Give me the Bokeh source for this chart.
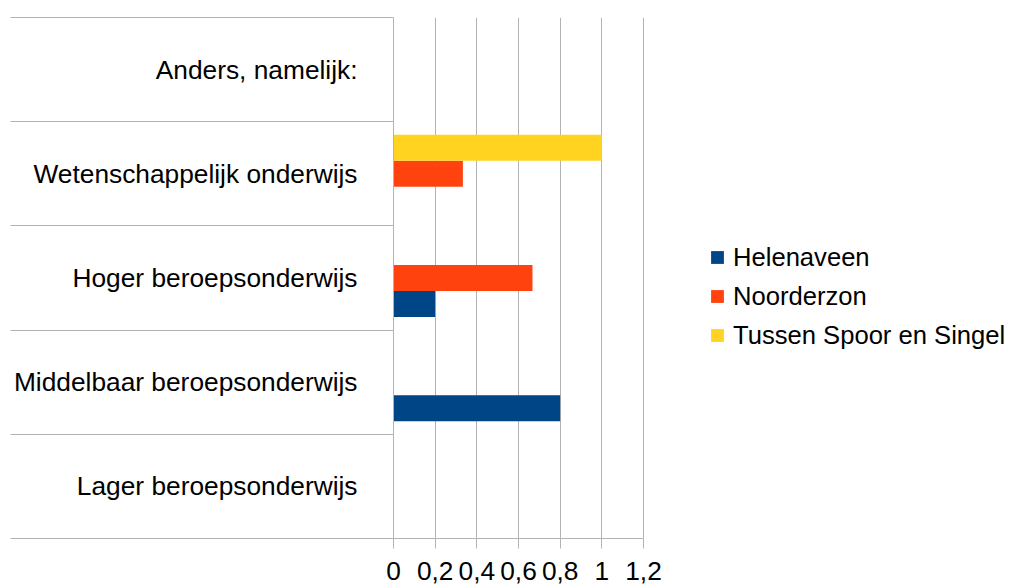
from bokeh.plotting import figure
from bokeh.models import Range1d, FixedTicker, Legend, LegendItem
from bokeh.embed import file_html
from bokeh.resources import INLINE

categories = ["Lager beroepsonderwijs", "Middelbaar beroepsonderwijs",
              "Hoger beroepsonderwijs", "Wetenschappelijk onderwijs",
              "Anders, namelijk:"]
series_names = ["Helenaveen", "Noorderzon", "Tussen Spoor en Singel"]
helenaveen = [0, 0.8, 0.2, 0, 0]
noorderzon = [0, 0, 0.667, 0.333, 0]
tussen = [0, 0, 0, 1.0, 0]
x_ticks = [0, 0.2, 0.4, 0.6, 0.8, 1.0, 1.2]
x_tick_labels = ["0", "0,2", "0,4", "0,6", "0,8", "1", "1,2"]
colors = ["#004586", "#ff420e", "#ffd320"]

FONT = "Liberation Sans"
FS = "26.3px"
GRID = "#b3b3b3"

W, H = 1013, 586
LEFT, TOP, BOTTOM = 393, 17, 48
AXIS_PX = 250.0          # pixels spanned by 0..1.2
x_max = 1.2 * (W - LEFT) / AXIS_PX

p = figure(width=W, height=H, output_backend="svg", toolbar_location=None,
           x_range=Range1d(0, x_max), y_range=Range1d(0, len(categories)),
           min_border_left=LEFT, min_border_right=0, min_border_top=TOP,
           min_border_bottom=BOTTOM)
p.outline_line_color = None
p.background_fill_color = "white"

bar_h = 0.25
offsets = [-0.25, 0.0, 0.25]
items = []
for name, vals, off, col in zip(series_names, [helenaveen, noorderzon, tussen], offsets, colors):
    ys = [i + 0.5 + off for i in range(len(categories))]
    r = p.hbar(y=ys, right=vals, left=0, height=bar_h, fill_color=col, line_color=None)
    items.append(LegendItem(label=name, renderers=[r]))

# x axis
p.xaxis.bounds = (0, 1.2)
p.xaxis.ticker = FixedTicker(ticks=x_ticks, minor_ticks=[])
p.xaxis.major_label_overrides = {t: l for t, l in zip(x_ticks, x_tick_labels)}
p.xaxis.major_tick_out = 10
p.xaxis.major_tick_in = 0
p.xaxis.minor_tick_out = 0
p.xaxis.minor_tick_in = 0
p.xaxis.axis_line_color = GRID
p.xaxis.major_tick_line_color = GRID
p.xaxis.major_label_text_font = FONT
p.xaxis.major_label_text_font_size = FS
p.xaxis.major_label_text_color = "black"
p.xaxis.major_label_standoff = 13

# y axis
centers = [i + 0.5 for i in range(len(categories))]
bounds = [float(i) for i in range(len(categories) + 1)]
p.yaxis.ticker = FixedTicker(ticks=centers, minor_ticks=bounds)
p.yaxis.major_label_overrides = {c: n for c, n in zip(centers, categories)}
p.yaxis.major_tick_out = 0
p.yaxis.major_tick_in = 0
p.yaxis.minor_tick_out = 383
p.yaxis.minor_tick_in = 0
p.yaxis.minor_tick_line_color = GRID
p.yaxis.axis_line_color = GRID
p.yaxis.major_label_text_font = FONT
p.yaxis.major_label_text_font_size = FS
p.yaxis.major_label_text_color = "black"
p.yaxis.major_label_standoff = 36 - 383

p.xgrid.grid_line_color = GRID
p.xgrid.bounds = (0, 1.2)
p.ygrid.grid_line_color = None

legend = Legend(items=items, location=(316, 188), padding=0, margin=0,
                border_line_color=None, background_fill_alpha=0,
                glyph_width=16, glyph_height=16, label_standoff=8,
                label_height=30, spacing=9,
                label_text_font=FONT, label_text_font_size="25.6px",
                label_text_color="black")
p.add_layout(legend)

open("out.html", "w").write(file_html(p, INLINE))
